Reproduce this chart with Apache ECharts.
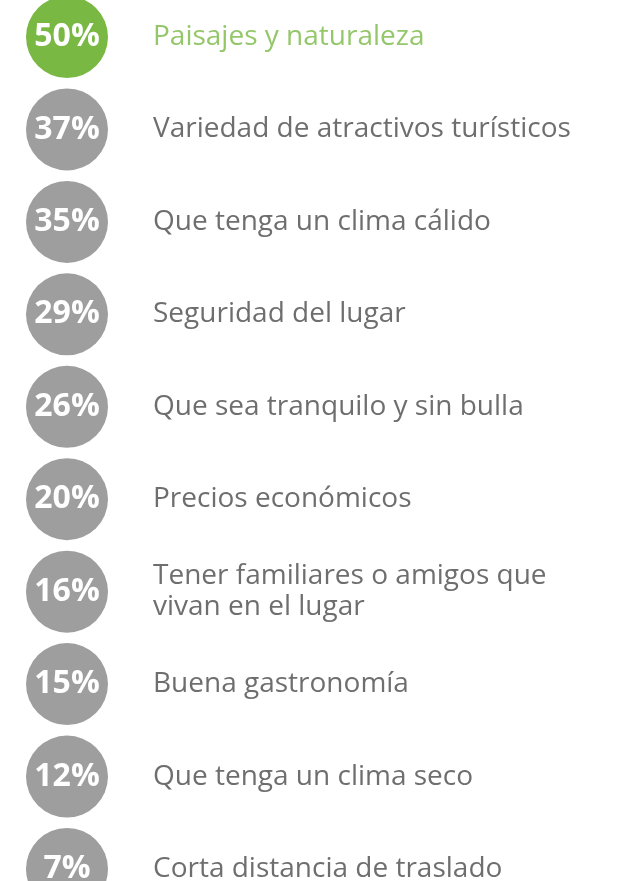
<!DOCTYPE html>
<html>
<head>
<meta charset="utf-8">
<script src="https://cdn.jsdelivr.net/npm/echarts@6/dist/echarts.min.js"></script>
<style>
  html, body { margin: 0; padding: 0; background: #fff; }
  #chart { width: 618px; height: 881px; }
</style>
</head>
<body>
<div id="chart"></div>
<script>
const factors = [
  'Paisajes y naturaleza',
  'Variedad de atractivos turísticos',
  'Que tenga un clima cálido',
  'Seguridad del lugar',
  'Que sea tranquilo y sin bulla',
  'Precios económicos',
  'Tener familiares o amigos que\nvivan en el lugar',
  'Buena gastronomía',
  'Que tenga un clima seco',
  'Corta distancia de traslado'
]
const shares = [50, 37, 35, 29, 26, 20, 16, 15, 12, 7]

const green = '#79b943'
const grey = '#9e9e9e'

let myChart = echarts.init(document.getElementById('chart'))

// first item highlighted in green, the rest grey
const points = shares.map((v, i) => ({
  value: [0, i, v],
  itemStyle: { color: i === 0 ? green : grey, opacity: 1 }
}))
const names = factors.map((f, i) => ({
  value: [0, i],
  label: { color: i === 0 ? green : '#4a4a4a' }
}))

myChart.setOption({
  animation: false,
  grid: { left: 67, right: 20, top: 37, bottom: 12 },
  xAxis: { type: 'value', min: 0, max: 1, show: false },
  yAxis: {
    type: 'category',
    data: factors,
    inverse: true,
    boundaryGap: false,
    show: false
  },
  series: [
    {
      type: 'scatter',
      data: points,
      symbolSize: 82,
      label: {
        show: true,
        position: 'inside',
        formatter: p => p.value[2] + '%',
        color: '#fff',
        fontFamily: 'Open Sans',
        fontWeight: 'bold',
        fontSize: 32
      }
    },
    {
      type: 'scatter',
      data: names,
      symbolSize: 82,
      itemStyle: { color: 'rgba(0,0,0,0)' },
      label: {
        show: true,
        position: 'right',
        distance: 45,
        formatter: p => factors[p.dataIndex],
        fontFamily: 'Open Sans',
        fontSize: 28,
        lineHeight: 31
      }
    }
  ]
})
</script>
</body>
</html>
